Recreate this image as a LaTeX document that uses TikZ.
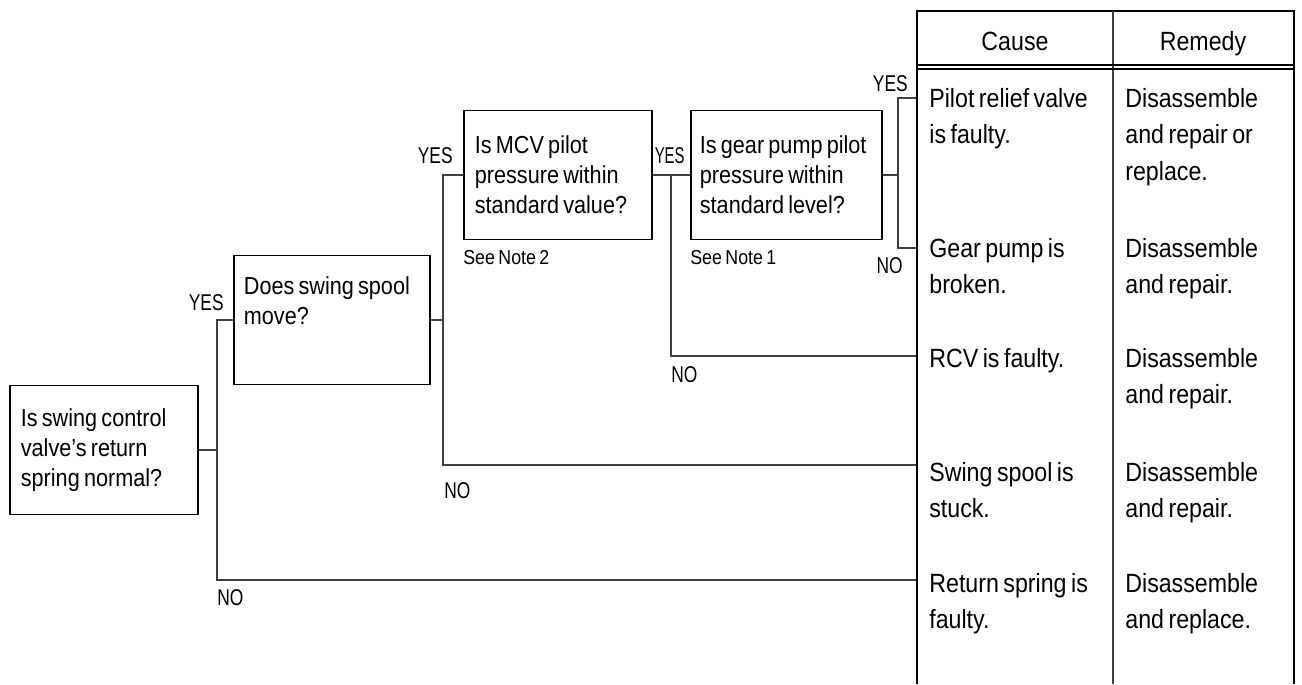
\documentclass[tikz,border=0pt]{standalone}
\usepackage{fontspec}
\setmainfont[FakeStretch=0.88,WordSpace=0.7]{Liberation Sans}
\newfontfamily\tagfont[FakeStretch=0.76]{Liberation Sans}
\usetikzlibrary{positioning}

\begin{document}
\begin{tikzpicture}[x=0.02cm,y=-0.02cm,
    qbox/.style={draw,line width=1pt,rectangle,align=flush left,text width=3.32cm,inner xsep=0.22cm,minimum height=2.58cm,font=\fontsize{14}{17}\selectfont},
    link/.style={line width=0.6pt,black!75},
    tag/.style={inner sep=0pt,font=\tagfont\fontsize{13}{15}\selectfont},
    note/.style={inner sep=0pt,font=\fontsize{11.5}{13}\selectfont},
    cell/.style={inner sep=0pt,align=flush left,anchor=base west,font=\fontsize{15}{21}\selectfont},
    head/.style={inner sep=0pt,anchor=base,font=\fontsize{15}{18}\selectfont},
    frame/.style={line width=1pt},
    rule/.style={line width=0.6pt,black!75}]
    \useasboundingbox (0,0) rectangle (1302,684);

    \node[qbox,anchor=west] (q1) at (9,450) {Is swing control\\valve's return\\spring normal?};
    \node[qbox,anchor=west,text width=3.52cm,inner xsep=0.2cm] (q2) at (233,320) {Does swing spool\\move?\\\strut};
    \node[qbox,anchor=west] (q3) at (463,175) {Is MCV pilot\\pressure within\\standard value?};
    \node[qbox,anchor=west,text width=3.46cm,inner xsep=0.18cm] (q4) at (690,175) {\mbox{Is gear pump pilot}\\pressure within\\standard level?};
    \node[note,below right=0.2cm and 0cm of q3.south west] (n2) {See Note 2};
    \node[note,below right=0.2cm and 0cm of q4.south west] (n1) {See Note 1};

    \coordinate (j1) at (217,450);
    \coordinate (j2) at (443,320);
    \coordinate (j3) at (671,175);
    \coordinate (j4) at (898,175);
    \coordinate (c1) at (917,98);
    \coordinate (c2) at (917,248);
    \coordinate (c3) at (917,356);
    \coordinate (c4) at (917,465);
    \coordinate (c5) at (917,580);

    \draw[link] (q1.east) -- (j1);
    \draw[link] (q2.west) -| (j1) |- (c5);
    \draw[link] (q2.east) -- (j2);
    \draw[link] (q3.west) -| (j2) |- (c4);
    \draw[link] (q3.east) -- (q4.west);
    \draw[link] (j3) |- (c3);
    \draw[link] (q4.east) -- (j4);
    \draw[link] (c1) -| (j4) |- (c2);

    \node[tag,anchor=base east] (y1) at (224,310) {YES};
    \node[tag,anchor=base west] (no1) at (217,605) {NO};
    \node[tag,anchor=base east] (y2) at (453,163) {YES};
    \node[tag,anchor=base west] (no2) at (444,498) {NO};
    \node[tag,anchor=base east] (y3) at (685,163) {\scalebox{0.86}[1]{YES}};
    \node[tag,anchor=base west] (no3) at (671,382) {NO};
    \node[tag,anchor=base east] (y4) at (908,91) {YES};
    \node[tag,anchor=base east] (no4) at (903,273) {NO};

    % cause / remedy table
    \draw[frame] (917,684) |- (1294,11) -- (1294,684);
    \draw[rule] (1113,11) -- (1113,684);
    \draw[line width=0.8pt] (917,65) -- (1294,65);
    \draw[line width=0.8pt] (917,69) -- (1294,69);
    \node[head] (hcause) at (1015,50) {Cause};
    \node[head] (hfix) at (1203,50) {Remedy};

    \node[cell,text width=3.6cm] (cause1) at (929,107) {Pilot relief valve\\is faulty.};
    \node[cell,text width=3.2cm] (fix1) at (1125,107) {Disassemble\\and repair or\\replace.};
    \node[cell,text width=3.6cm] (cause2) at (929,257) {Gear pump is\\broken.};
    \node[cell,text width=3.2cm] (fix2) at (1125,257) {Disassemble\\and repair.};
    \node[cell,text width=3.6cm] (cause3) at (929,367) {RCV is faulty.};
    \node[cell,text width=3.2cm] (fix3) at (1125,367) {Disassemble\\and repair.};
    \node[cell,text width=3.6cm] (cause4) at (929,481) {Swing spool is\\stuck.};
    \node[cell,text width=3.2cm] (fix4) at (1125,481) {Disassemble\\and repair.};
    \node[cell,text width=3.6cm] (cause5) at (929,592) {Return spring is\\faulty.};
    \node[cell,text width=3.2cm] (fix5) at (1125,592) {Disassemble\\and replace.};
\end{tikzpicture}
\end{document}
